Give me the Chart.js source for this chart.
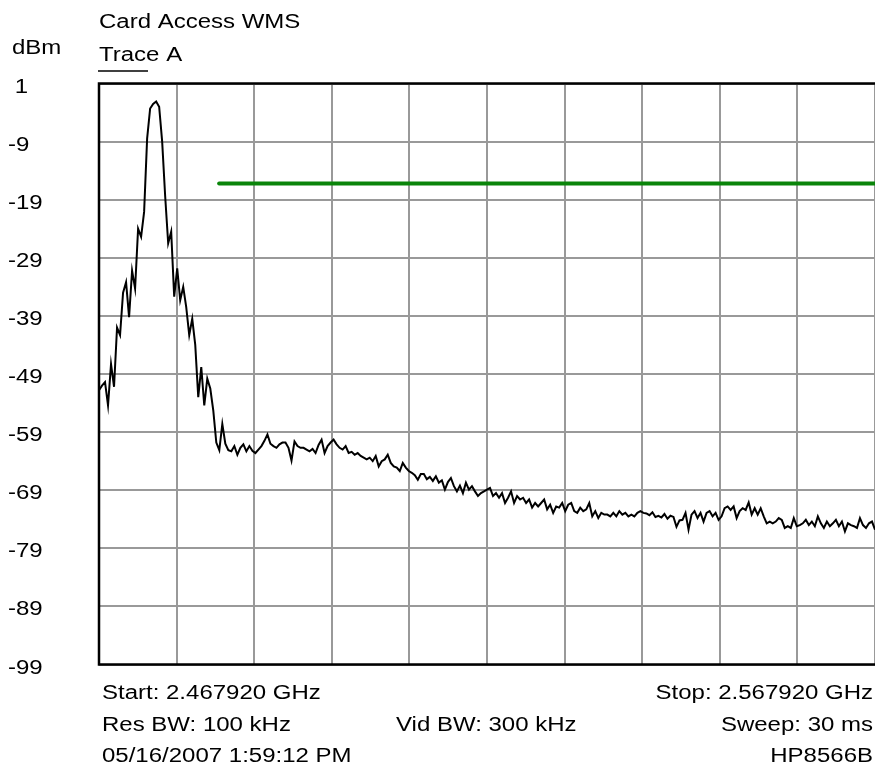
<!DOCTYPE html>
<html>
<head>
<meta charset="utf-8">
<title>Card Access WMS</title>
<script src="https://cdn.jsdelivr.net/npm/chart.js@4"></script>
<style>
  html, body { margin: 0; padding: 0; background: #fff; }
  #wrap { width: 875px; height: 781px; }
</style>
</head>
<body>
<div id="wrap"><canvas id="chart" width="875" height="781"></canvas></div>
<script>
// sweep settings
const startMHz = 2467.92;
const stopMHz = 2567.92;
const refLevel = 1;
const bottomLevel = -99;
const dbPerDiv = 10;

// trace A, equally spaced across the sweep (dBm)
const traceDbm = [
  -51.8, -51.0, -50.4, -54.4, -47.3, -51.2, -41.0, -42.3, -35.0, -33.2,
  -39.2, -31.2, -34.3, -24.0, -25.4, -21.1, -8.5, -3.3, -2.5, -2.1,
  -3.0, -9.0, -18.4, -26.5, -24.5, -35.7, -30.8, -36.3, -34.0, -37.5,
  -42.3, -39.5, -44.0, -53.0, -47.8, -54.4, -49.8, -51.5, -55.3, -60.8,
  -62.1, -57.6, -61.0, -62.1, -62.3, -61.4, -62.9, -61.7, -61.1, -62.3,
  -61.4, -62.2, -62.6, -62.0, -61.4, -60.5, -59.4, -61.0, -61.4, -61.7,
  -61.1, -60.8, -60.8, -61.7, -63.9, -60.6, -61.4, -61.7, -61.7, -62.0,
  -62.3, -61.9, -62.6, -61.2, -60.3, -62.6, -61.4, -60.8, -60.3, -61.1,
  -61.7, -62.0, -61.4, -62.6, -62.4, -62.9, -62.6, -63.1, -63.4, -63.7,
  -63.4, -64.0, -63.1, -64.9, -64.0, -63.7, -62.9, -64.3, -64.9, -65.1,
  -65.7, -64.3, -65.1, -65.7, -66.0, -66.4, -67.2, -66.2, -66.2, -67.1,
  -66.7, -67.4, -66.6, -67.7, -67.3, -68.9, -67.6, -66.9, -68.3, -69.2,
  -68.2, -69.5, -67.7, -68.9, -68.3, -69.2, -70.0, -69.5, -69.2, -68.9,
  -68.6, -70.0, -69.5, -70.3, -69.5, -71.2, -70.3, -69.2, -71.2, -70.0,
  -70.6, -70.3, -71.2, -70.6, -72.0, -71.2, -71.8, -71.2, -70.6, -72.3,
  -71.5, -72.9, -71.8, -72.0, -71.2, -72.6, -71.5, -71.2, -72.6, -72.9,
  -72.0, -72.6, -72.3, -71.2, -73.5, -72.6, -73.8, -72.9, -73.2, -73.2,
  -73.5, -72.9, -73.5, -72.6, -73.2, -72.9, -73.5, -73.2, -73.5, -72.9,
  -72.6, -72.9, -73.0, -73.3, -72.8, -73.6, -73.4, -73.7, -73.1, -73.9,
  -73.4, -73.6, -75.3, -74.2, -74.1, -72.9, -75.8, -73.2, -72.6, -73.8,
  -72.9, -74.4, -72.9, -72.6, -73.5, -72.9, -74.1, -73.5, -72.1, -71.8,
  -72.4, -71.8, -73.8, -72.6, -72.1, -72.4, -71.1, -73.2, -72.1, -73.2,
  -72.1, -73.5, -74.7, -74.4, -74.7, -74.4, -73.8, -74.1, -75.5, -75.2,
  -75.5, -73.8, -75.2, -75.0, -74.7, -74.1, -75.0, -74.4, -75.2, -73.5,
  -74.7, -75.5, -74.4, -75.2, -74.7, -74.1, -75.2, -74.4, -76.1, -74.7,
  -75.0, -75.2, -75.5, -73.8, -75.0, -75.5, -74.7, -74.4, -75.8
];

// limit line (green)
const limitMHz = [2483.4, 2567.92];
const limitDbm = [-16.2, -16.2];

// texts
const chartTitle = "Card Access WMS";
const unitLabel = "dBm";
const traceLabel = "Trace A";
const footLeft = ["Start: 2.467920 GHz", "Res BW: 100 kHz", "05/16/2007 1:59:12 PM"];
const footMid = ["", "Vid BW: 300 kHz", ""];
const footRight = ["Stop: 2.567920 GHz", "Sweep: 30 ms", "HP8566B"];

const FONT = "20px 'Liberation Sans', Arial, sans-serif";
const stretch = 1.2;

function stretchText(ctx, text, x, y, align) {
  ctx.save();
  ctx.translate(x, y);
  ctx.scale(stretch, 1);
  ctx.textAlign = align;
  ctx.textBaseline = "alphabetic";
  ctx.fillText(text, 0, 0);
  ctx.restore();
}

const step = (stopMHz - startMHz) / (traceDbm.length - 1);
const tracePoints = traceDbm.map((v, i) => ({ x: startMHz + i * step, y: v }));
const limitPoints = limitMHz.map((f, i) => ({ x: f, y: limitDbm[i] }));

const textPlugin = {
  id: "analyzerText",
  afterDraw(chart) {
    const ctx = chart.ctx;
    const area = chart.chartArea;
    const yScale = chart.scales.y;
    ctx.save();
    ctx.fillStyle = "#000";
    ctx.font = FONT;

    // frame: left, top, bottom
    ctx.strokeStyle = "#000";
    ctx.lineWidth = 2.5;
    ctx.beginPath();
    ctx.moveTo(875, area.top);
    ctx.lineTo(area.left, area.top);
    ctx.lineTo(area.left, area.bottom);
    ctx.lineTo(875, area.bottom);
    ctx.stroke();

    // y tick labels from the scale (positive values keep a space for the sign)
    yScale.ticks.forEach(t => {
      const y = yScale.getPixelForValue(t.value);
      const v = Math.round(t.value);
      stretchText(ctx, (v >= 0 ? " " : "") + v, 8, y + 9, "left");
    });

    // header
    stretchText(ctx, chartTitle, area.left, 28, "left");
    stretchText(ctx, unitLabel, 12, 54, "left");
    stretchText(ctx, traceLabel, area.left, 60.5, "left");
    ctx.lineWidth = 1.5;
    ctx.beginPath();
    ctx.moveTo(area.left - 1, 71);
    ctx.lineTo(148, 71);
    ctx.stroke();

    // footer
    const rows = [699, 731, 762];
    rows.forEach((y, i) => {
      if (footLeft[i]) stretchText(ctx, footLeft[i], area.left + 3, y, "left");
      if (footMid[i]) stretchText(ctx, footMid[i], 396, y, "left");
      if (footRight[i]) stretchText(ctx, footRight[i], 873, y, "right");
    });
    ctx.restore();
  }
};

new Chart(document.getElementById("chart"), {
  type: "line",
  data: {
    datasets: [
      {
        label: "Trace A",
        data: tracePoints,
        borderColor: "#000",
        borderWidth: 2,
        pointRadius: 0,
        tension: 0
      },
      {
        label: "Limit",
        data: limitPoints,
        borderColor: "#0a850a",
        borderWidth: 4,
        borderCapStyle: "round",
        pointRadius: 0
      }
    ]
  },
  options: {
    responsive: false,
    animation: false,
    events: [],
    layout: { padding: { left: 8, top: 83.5, right: -2, bottom: 116.5 } },
    plugins: { legend: { display: false }, tooltip: { enabled: false } },
    scales: {
      x: {
        type: "linear",
        min: startMHz,
        max: stopMHz,
        ticks: { display: false, stepSize: 10 },
        grid: { color: "#999", lineWidth: 2, drawTicks: false },
        border: { display: false },
        afterFit: s => { s.height = 0; }
      },
      y: {
        min: bottomLevel,
        max: refLevel,
        ticks: { display: false, stepSize: dbPerDiv },
        grid: { color: "#999", lineWidth: 2, drawTicks: false },
        border: { display: false },
        afterFit: s => { s.width = 91; }
      }
    }
  },
  plugins: [textPlugin]
});
</script>
</body>
</html>
